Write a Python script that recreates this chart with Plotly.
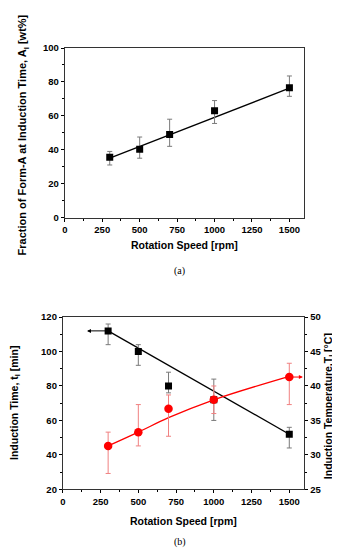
import plotly.graph_objects as go

# ---- data (a) ----
speed_a = [300, 500, 700, 1000, 1500]
formA = [35.5, 40.3, 49.0, 63.0, 76.5]
formA_hi = [39.0, 47.5, 58.0, 69.0, 83.5]
formA_lo = [31.0, 35.0, 42.0, 55.5, 71.5]
fitA_x = [300, 1500]
fitA_y = [35.0, 76.3]

# ---- data (b) ----
speed_b = [300, 500, 700, 1000, 1500]
ind_time = [112, 100, 80, 72, 52]
ind_time_hi = [116, 104, 88, 84, 56]
ind_time_lo = [104, 92, 76, 60, 44]
fit_time_x = [300, 1500]
fit_time_y = [112, 52]

ind_temp = [31.3, 33.3, 36.7, 38.0, 41.3]
ind_temp_hi = [33.3, 37.3, 38.7, 40.0, 43.3]
ind_temp_lo = [27.3, 31.3, 32.7, 36.0, 37.3]
fit_temp_x = [300, 500, 700, 1000, 1500]
fit_temp_y = [31.3, 33.3, 35.4, 38.0, 41.4]

arrow_time = dict(x_from=300, x_to=160, y=112)
arrow_temp = dict(x_from=1500, x_to=1590, y=41.3)

x_ticks = [0, 250, 500, 750, 1000, 1250, 1500]

W, H = 340, 550
FONT = "Liberation Sans"
GRAY = "#7a7a7a"
PINK = "#f08080"


def px(v):
    return v / W


def py(v):
    return 1 - v / H


fig = go.Figure()

# (a)
fig.add_trace(go.Scatter(x=fitA_x, y=fitA_y, mode="lines",
                         line=dict(color="black", width=1.3),
                         xaxis="x", yaxis="y", showlegend=False))
fig.add_trace(go.Scatter(
    x=speed_a, y=formA, mode="markers",
    marker=dict(symbol="square", size=7, color="black"),
    error_y=dict(type="data", symmetric=False,
                 array=[h - v for h, v in zip(formA_hi, formA)],
                 arrayminus=[v - l for v, l in zip(formA, formA_lo)],
                 color=GRAY, thickness=1, width=2.5),
    xaxis="x", yaxis="y", showlegend=False))

# (b)
fig.add_trace(go.Scatter(x=fit_time_x, y=fit_time_y, mode="lines",
                         line=dict(color="black", width=1.3),
                         xaxis="x2", yaxis="y2", showlegend=False))
fig.add_trace(go.Scatter(
    x=speed_b, y=ind_time, mode="markers",
    marker=dict(symbol="square", size=7, color="black"),
    error_y=dict(type="data", symmetric=False,
                 array=[h - v for h, v in zip(ind_time_hi, ind_time)],
                 arrayminus=[v - l for v, l in zip(ind_time, ind_time_lo)],
                 color=GRAY, thickness=1, width=2.5),
    xaxis="x2", yaxis="y2", showlegend=False))
fig.add_trace(go.Scatter(x=fit_temp_x, y=fit_temp_y, mode="lines",
                         line=dict(color="red", width=1.3, shape="spline"),
                         xaxis="x2", yaxis="y3", showlegend=False))
fig.add_trace(go.Scatter(
    x=speed_b, y=ind_temp, mode="markers",
    marker=dict(symbol="circle", size=8.5, color="red"),
    error_y=dict(type="data", symmetric=False,
                 array=[h - v for h, v in zip(ind_temp_hi, ind_temp)],
                 arrayminus=[v - l for v, l in zip(ind_temp, ind_temp_lo)],
                 color=PINK, thickness=1, width=2.5),
    xaxis="x2", yaxis="y3", showlegend=False))

tickfont = dict(family=FONT, size=9.5, color="black", weight="bold")
common_x = dict(range=[0, 1600], tickvals=x_ticks, ticks="outside", ticklen=3,
                tickwidth=1, tickcolor="black", showline=True, linecolor="#333",
                linewidth=1, mirror=True, showgrid=False, zeroline=False,
                tickfont=tickfont,
                minor=dict(dtick=125, tick0=0, ticks="outside", ticklen=2,
                           tickcolor="black", showgrid=False))

fig.update_layout(
    width=W, height=H, margin=dict(l=0, r=0, t=0, b=0),
    paper_bgcolor="white", plot_bgcolor="white",
    xaxis=dict(domain=[px(54.3), px(296)], anchor="y", **common_x),
    yaxis=dict(domain=[py(207.7), py(34.7)], anchor="x", range=[0, 100],
               dtick=20, ticks="outside", ticklen=3, tickcolor="black",
               showline=True, linecolor="#333", linewidth=1, mirror=True,
               showgrid=False, zeroline=False, tickfont=tickfont,
               minor=dict(dtick=10, ticks="outside", ticklen=2,
                          tickcolor="black", showgrid=False)),
    xaxis2=dict(domain=[px(52.3), px(296)], anchor="y2", **common_x),
    yaxis2=dict(domain=[py(485), py(309.3)], anchor="x2", range=[20, 120],
                dtick=20, ticks="outside", ticklen=3, tickcolor="black",
                showline=True, linecolor="#333", linewidth=1, mirror=True,
                showgrid=False, zeroline=False, tickfont=tickfont,
                minor=dict(dtick=10, ticks="outside", ticklen=2,
                           tickcolor="black", showgrid=False)),
    yaxis3=dict(overlaying="y2", side="right", anchor="x2", range=[25, 50],
                dtick=5, ticks="outside", ticklen=3, tickcolor="black",
                showline=False, showgrid=False, zeroline=False,
                tickfont=tickfont,
                minor=dict(dtick=2.5, ticks="outside", ticklen=2,
                           tickcolor="black", showgrid=False)),
)

titlefont = dict(family=FONT, size=10.5, color="black")
C = dict(xref="paper", yref="paper", showarrow=False, xanchor="center", yanchor="middle")
ann = []
ann.append(dict(text="<b>Fraction of Form-A at Induction Time, A<sub>I</sub> [wt%]</b>",
                x=px(12), y=py(123), textangle=-90,
                font=dict(family=FONT, size=11, color="black"), **C))
ann.append(dict(text="<b>Rotation Speed [rpm]</b>", x=px(175), y=py(236),
                font=titlefont, **C))
ann.append(dict(text="(a)", x=px(170), y=py(262),
                font=dict(family="Liberation Serif", size=10, color="black"), **C))
ann.append(dict(text="<b>Induction Time, t<sub>I</sub> [min]</b>", x=px(4), y=py(397),
                textangle=-90, font=titlefont, **C))
ann.append(dict(text="<b>Induction Temperature,T<sub>I</sub> [°C]</b>", x=px(321), y=py(400),
                textangle=-90, font=titlefont, **C))
ann.append(dict(text="<b>Rotation Speed [rpm]</b>", x=px(174), y=py(517),
                font=titlefont, **C))
ann.append(dict(text="(b)", x=px(170), y=py(539),
                font=dict(family="Liberation Serif", size=10, color="black"), **C))
ann.append(dict(x=arrow_time["x_to"], y=arrow_time["y"], ax=arrow_time["x_from"],
                ay=arrow_time["y"], xref="x2", yref="y2", axref="x2", ayref="y2",
                showarrow=True, arrowhead=2, arrowsize=0.8, arrowwidth=1,
                arrowcolor="black", text=""))
ann.append(dict(x=arrow_temp["x_to"], y=arrow_temp["y"], ax=arrow_temp["x_from"],
                ay=arrow_temp["y"], xref="x2", yref="y3", axref="x2", ayref="y3",
                showarrow=True, arrowhead=2, arrowsize=0.8, arrowwidth=1,
                arrowcolor="red", text=""))
fig.update_layout(annotations=ann)

fig.write_html("out.html")
